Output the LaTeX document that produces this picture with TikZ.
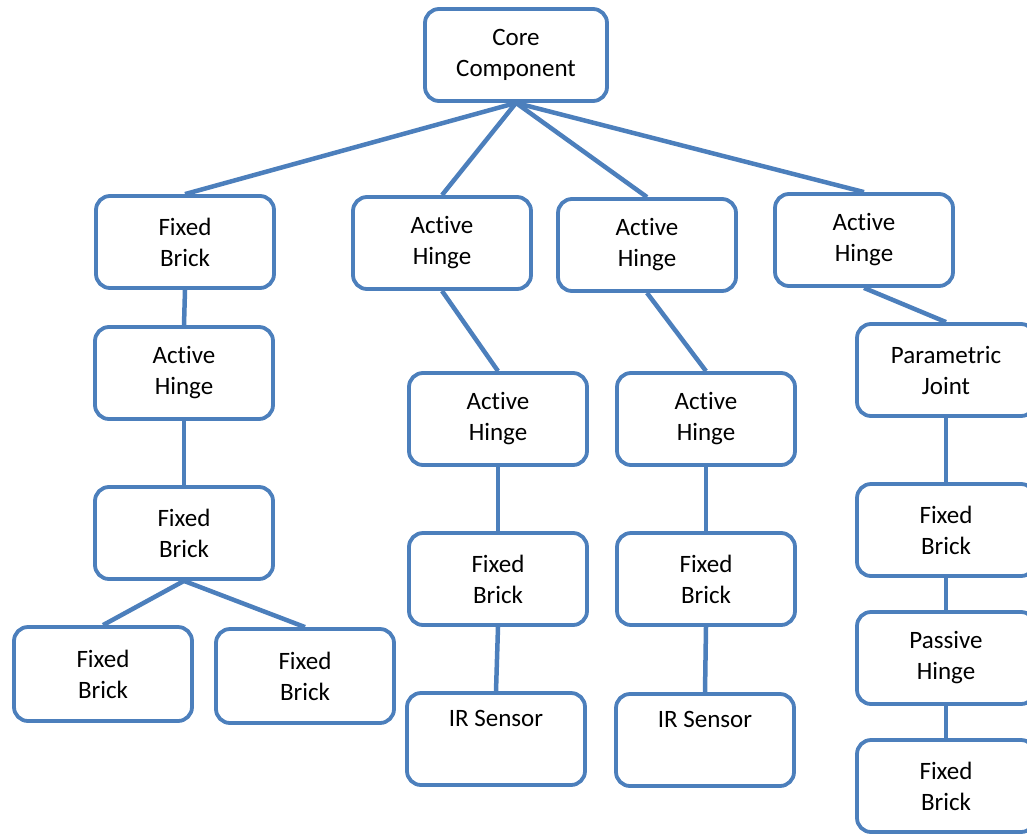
\documentclass[tikz,border=0pt]{standalone}
\usepackage{fontspec}
\setmainfont{Carlito}[Ligatures={NoCommon}]
\definecolor{boxblue}{RGB}{76,127,188}
\begin{document}
\begin{tikzpicture}[x=1pt,y=-1pt,
  blk/.style={draw=boxblue, line width=3.8pt, fill=white, rounded corners=14pt,
    minimum width=178pt, minimum height=92pt, align=center, inner sep=0pt,
    font=\fontsize{25}{31}\selectfont, text=black},
  link/.style={draw=boxblue, line width=4.5pt}]
\useasboundingbox (0,0) rectangle (1027,835);
\clip (0,0) rectangle (1027,835);
\node[blk, minimum width=182pt] (core) at (516,55) {Core\\Component};
\node[blk] (fb1) at (185,242) {Fixed\\Brick};
\node[blk] (ah2) at (442,243) {Active\\Hinge};
\node[blk] (ah3) at (647,245) {Active\\Hinge};
\node[blk] (ah4) at (864,240) {Active\\Hinge};
\node[blk] (ahL) at (184,373) {Active\\Hinge};
\node[blk] (fbL) at (184,533) {Fixed\\Brick};
\node[blk, minimum height=94pt] (fbLL) at (103,674) {Fixed\\Brick};
\node[blk, minimum height=94pt] (fbLR) at (305,676) {Fixed\\Brick};
\node[blk] (ah2b) at (498,419) {Active\\Hinge};
\node[blk] (fb2) at (498,579) {Fixed\\Brick};
\node[blk] (ir2) at (496,739) {IR Sensor\\\strut};
\node[blk] (ah3b) at (706,419) {Active\\Hinge};
\node[blk] (fb3) at (706,579) {Fixed\\Brick};
\node[blk] (ir3) at (705,740) {IR Sensor\\\strut};
\node[blk] (pj) at (946,370) {Parametric\\Joint};
\node[blk] (fb4) at (946,530) {Fixed\\Brick};
\node[blk] (ph) at (946,658) {Passive\\Hinge};
\node[blk] (fb4b) at (946,786) {Fixed\\Brick};
\draw[link] (core.south) -- (fb1.north);
\draw[link] (core.south) -- (ah2.north);
\draw[link] (core.south) -- (ah3.north);
\draw[link] (core.south) -- (ah4.north);
\draw[link] (fb1.south) -- (ahL.north);
\draw[link] (ahL.south) -- (fbL.north);
\draw[link] (fbL.south) -- (fbLL.north);
\draw[link] (fbL.south) -- (fbLR.north);
\draw[link] (ah2.south) -- (ah2b.north);
\draw[link] (ah2b.south) -- (fb2.north);
\draw[link] (fb2.south) -- (ir2.north);
\draw[link] (ah3.south) -- (ah3b.north);
\draw[link] (ah3b.south) -- (fb3.north);
\draw[link] (fb3.south) -- (ir3.north);
\draw[link] (ah4.south) -- (pj.north);
\draw[link] (pj.south) -- (fb4.north);
\draw[link] (fb4.south) -- (ph.north);
\draw[link] (ph.south) -- (fb4b.north);
\end{tikzpicture}
\end{document}
